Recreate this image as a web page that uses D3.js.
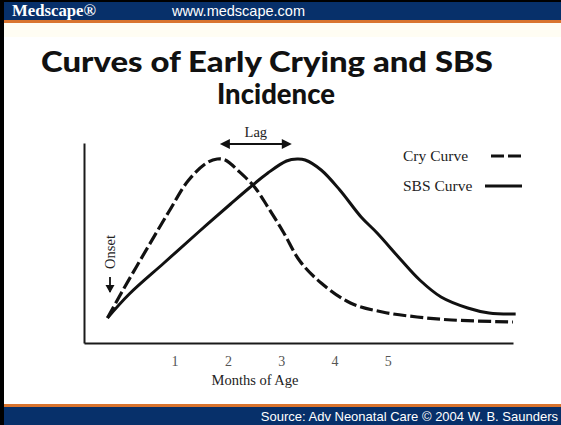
<!DOCTYPE html>
<html>
<head>
<meta charset="utf-8">
<script src="https://cdn.jsdelivr.net/npm/d3@7"></script>
<style>
  html, body { margin: 0; padding: 0; background: #fff; }
  svg { display: block; }
</style>
</head>
<body>
<div id="chart"></div>
<script>
// data (months of age vs relative incidence)
var cryMonths = [-0.26, 0, 0.5, 0.9, 1.25, 1.6, 1.8, 1.95, 2.2, 2.5, 2.75, 3.05, 3.35, 3.75, 4.3, 4.9, 5.55, 6.2, 7.35];
var cryValues = [12.5, 25, 48, 66, 81, 90, 92, 91.5, 86, 78, 68, 55, 41, 30, 20, 15.5, 13, 11.5, 10.5];
var sbsMonths = [-0.26, 0.15, 0.8, 1.45, 2.05, 2.4, 2.75, 3.1, 3.3, 3.45, 3.75, 4.1, 4.5, 4.8, 5.25, 5.6, 6.0, 6.5, 6.9, 7.4];
var sbsValues = [12.5, 24.5, 40, 55.5, 69.5, 77.5, 85, 91, 92, 91.5, 86.5, 76.5, 63, 55, 41.5, 31.5, 23, 17.5, 15, 14.5];
var monthTicks = [1, 2, 3, 4, 5];
var lagMonths = [1.85, 3.2];
var seriesNames = ["Cry Curve", "SBS Curve"];

var W = 561, H = 425;
var navy = "#07306a", orange = "#d9742e";

var svg = d3.select("#chart").append("svg")
  .attr("width", W)
  .attr("height", H);

// header / footer bars
svg.append("rect").attr("x", 0).attr("y", 0).attr("width", W).attr("height", 2).attr("fill", "#000");
svg.append("rect").attr("x", 0).attr("y", 2).attr("width", W).attr("height", 18).attr("fill", navy);
svg.append("rect").attr("x", 0).attr("y", 20).attr("width", W).attr("height", 3).attr("fill", orange);
svg.append("rect").attr("x", 0).attr("y", 23).attr("width", W).attr("height", 14).attr("fill", "#fffdf3");

svg.append("rect").attr("x", 0).attr("y", 404).attr("width", W).attr("height", 3).attr("fill", orange);
svg.append("rect").attr("x", 0).attr("y", 407).attr("width", W).attr("height", 18).attr("fill", navy);

svg.append("text")
  .attr("x", 12).attr("y", 16)
  .attr("font-family", "Liberation Serif, serif")
  .attr("font-weight", "bold")
  .attr("font-size", 17)
  .attr("textLength", 84)
  .attr("lengthAdjust", "spacingAndGlyphs")
  .attr("fill", "#fff")
  .text("Medscape®");

svg.append("text")
  .attr("x", 172).attr("y", 16)
  .attr("font-family", "Liberation Sans, Arial, sans-serif")
  .attr("font-size", 14.5)
  .attr("fill", "#fff")
  .text("www.medscape.com");

svg.append("text")
  .attr("x", 558).attr("y", 421)
  .attr("text-anchor", "end")
  .attr("font-family", "Liberation Sans, Arial, sans-serif")
  .attr("font-size", 13)
  .attr("fill", "#fff")
  .text("Source: Adv Neonatal Care © 2004 W. B. Saunders");

// left black border
svg.append("rect").attr("x", 0).attr("y", 0).attr("width", 4).attr("height", H).attr("fill", "#000");

// title
svg.append("text")
  .attr("x", 267).attr("y", 72)
  .attr("text-anchor", "middle")
  .attr("font-family", "Lato, sans-serif")
  .attr("font-weight", 900)
  .attr("font-size", 28)
  .attr("textLength", 452)
  .attr("lengthAdjust", "spacingAndGlyphs")
  .attr("fill", "#111")
  .text("Curves of Early Crying and SBS");

svg.append("text")
  .attr("x", 276).attr("y", 104)
  .attr("text-anchor", "middle")
  .attr("font-family", "Lato, sans-serif")
  .attr("font-weight", 900)
  .attr("font-size", 28)
  .attr("textLength", 118)
  .attr("lengthAdjust", "spacingAndGlyphs")
  .attr("fill", "#111")
  .text("Incidence");

// scales
var x = d3.scaleLinear().domain([-0.7, 7.35]).range([84, 513]);
var y = d3.scaleLinear().domain([0, 100]).range([343, 143]);

var serif = "Liberation Serif, Times New Roman, serif";

// axes
var xAxis = svg.append("g")
  .attr("transform", "translate(0," + y(0) + ")")
  .call(d3.axisBottom(x).tickValues(monthTicks).tickSize(0).tickSizeOuter(0).tickPadding(13).tickFormat(d3.format("d")));
xAxis.select(".domain").attr("stroke", "#1a1a1a").attr("stroke-width", 2);
xAxis.selectAll("text")
  .attr("font-family", serif)
  .attr("font-size", 14)
  .attr("fill", "#555");

var yAxis = svg.append("g")
  .attr("transform", "translate(" + x(-0.7) + ",0)")
  .call(d3.axisLeft(y).tickValues([]).tickSize(0).tickSizeOuter(0));
yAxis.select(".domain").attr("stroke", "#1a1a1a").attr("stroke-width", 2);

svg.append("text")
  .attr("x", 255).attr("y", 385)
  .attr("text-anchor", "middle")
  .attr("font-family", serif)
  .attr("font-size", 14.5)
  .attr("fill", "#222")
  .text("Months of Age");

// curves
var line = d3.line()
  .x(function(d) { return x(d[0]); })
  .y(function(d) { return y(d[1]); })
  .curve(d3.curveCatmullRom.alpha(0.5));

var cryData = d3.zip(cryMonths, cryValues);
var sbsData = d3.zip(sbsMonths, sbsValues);

svg.append("path")
  .datum(sbsData)
  .attr("d", line)
  .attr("fill", "none")
  .attr("stroke", "#111")
  .attr("stroke-width", 3);

svg.append("path")
  .datum(cryData)
  .attr("d", line)
  .attr("fill", "none")
  .attr("stroke", "#111")
  .attr("stroke-width", 3.2)
  .attr("stroke-dasharray", "13,4");

// Onset label + arrow
svg.append("text")
  .attr("transform", "translate(115,252) rotate(-90)")
  .attr("text-anchor", "middle")
  .attr("font-family", serif)
  .attr("font-size", 14.5)
  .attr("fill", "#222")
  .text("Onset");

svg.append("path")
  .attr("d", "M110,277 L110,292")
  .attr("stroke", "#111")
  .attr("stroke-width", 1.8);
svg.append("path")
  .attr("d", "M105.5,285 L110,293 L114.5,285 Z")
  .attr("fill", "#111");

// Lag arrow between the peaks
var lagY = 144;
var lx1 = x(lagMonths[0]), lx2 = x(lagMonths[1]);
svg.append("line")
  .attr("x1", lx1 + 4).attr("x2", lx2 - 4)
  .attr("y1", lagY).attr("y2", lagY)
  .attr("stroke", "#111")
  .attr("stroke-width", 2);
svg.append("path")
  .attr("d", "M" + lx1 + "," + lagY + " l10,-5 l0,10 Z")
  .attr("fill", "#111");
svg.append("path")
  .attr("d", "M" + lx2 + "," + lagY + " l-10,-5 l0,10 Z")
  .attr("fill", "#111");
svg.append("text")
  .attr("x", (lx1 + lx2) / 2).attr("y", 137)
  .attr("text-anchor", "middle")
  .attr("font-family", serif)
  .attr("font-size", 14.5)
  .attr("fill", "#222")
  .text("Lag");

// legend
var legend = svg.selectAll(".legend")
  .data(seriesNames)
  .enter().append("g")
  .attr("class", "legend")
  .attr("transform", function(d, i) { return "translate(403," + (161 + i * 30) + ")"; });

legend.append("text")
  .attr("font-family", serif)
  .attr("font-size", 15.5)
  .attr("fill", "#222")
  .text(function(d) { return d; });

legend.append("line")
  .attr("x1", function(d, i) { return i === 0 ? 88 : 82; })
  .attr("x2", 119)
  .attr("y1", -5).attr("y2", -5)
  .attr("stroke", "#111")
  .attr("stroke-width", 3)
  .attr("stroke-dasharray", function(d, i) { return i === 0 ? "13,4" : null; });
</script>
</body>
</html>
